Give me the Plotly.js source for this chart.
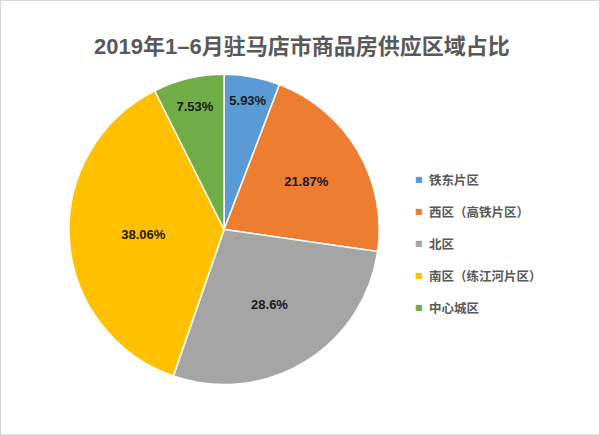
<!DOCTYPE html>
<html>
<head>
<meta charset="utf-8">
<script src="https://cdn.plot.ly/plotly-3.0.1.min.js"></script>
<style>html,body{margin:0;padding:0;background:#fff;}#chart{width:600px;height:435px;}</style>
</head>
<body>
<div id="chart"></div>
<script>
const titleText = '2019年1–6月驻马店市商品房供应区域占比';
const categories = ['铁东片区', '西区（高铁片区）', '北区', '南区（练江河片区）', '中心城区'];
const shares = [5.93, 21.87, 28.6, 38.06, 7.53];
const colors = ['#5b9bd5', '#ed7d31', '#a5a5a5', '#ffc000', '#70ad47'];

const FONT = 'Liberation Sans, Arial, Noto Sans CJK SC, sans-serif';

const trace = {
  type: 'pie',
  labels: categories,
  values: shares,
  text: shares.map(v => v + '%'),
  textinfo: 'text',
  texttemplate: '<b>%{text}</b>',
  textposition: 'inside',
  insidetextorientation: 'horizontal',
  textfont: {family: FONT, size: 13, color: '#1a1a1a'},
  sort: false,
  direction: 'clockwise',
  rotation: 0,
  marker: {colors: colors, line: {color: '#ffffff', width: 1.5}},
  domain: {x: [0.115, 0.632], y: [0.115, 0.83]},
  showlegend: false,
  hoverinfo: 'label+text'
};

const annotations = [{
  text: '<b>' + titleText + '</b>',
  xref: 'paper', yref: 'paper', x: 302/600, y: 1 - 46/435,
  xanchor: 'center', yanchor: 'middle', showarrow: false,
  font: {family: FONT, size: 22, color: '#595959'}
}];
categories.forEach((c, i) => {
  const yPix = 180 + i * 31.8;
  annotations.push({
    text: '■', xref: 'paper', yref: 'paper', x: 418.5/600, y: 1 - yPix/435,
    xanchor: 'center', yanchor: 'middle', showarrow: false,
    font: {family: 'DejaVu Sans', size: 8, color: colors[i]}
  });
  annotations.push({
    text: '<b>' + c + '</b>', xref: 'paper', yref: 'paper', x: 427/600, y: 1 - yPix/435,
    xanchor: 'left', yanchor: 'middle', showarrow: false,
    font: {family: 'Noto Sans CJK SC, sans-serif', size: 12.5, color: '#595959'}
  });
});

const layout = {
  width: 600, height: 435,
  margin: {l: 0, r: 0, t: 0, b: 0},
  paper_bgcolor: '#ffffff',
  annotations: annotations,
  shapes: [{type: 'rect', xref: 'paper', yref: 'paper', x0: 0, x1: 1, y0: 0, y1: 1,
            line: {color: '#d9d9d9', width: 2}}]
};

Plotly.newPlot('chart', [trace], layout, {displayModeBar: false, staticPlot: true});
</script>
</body>
</html>
